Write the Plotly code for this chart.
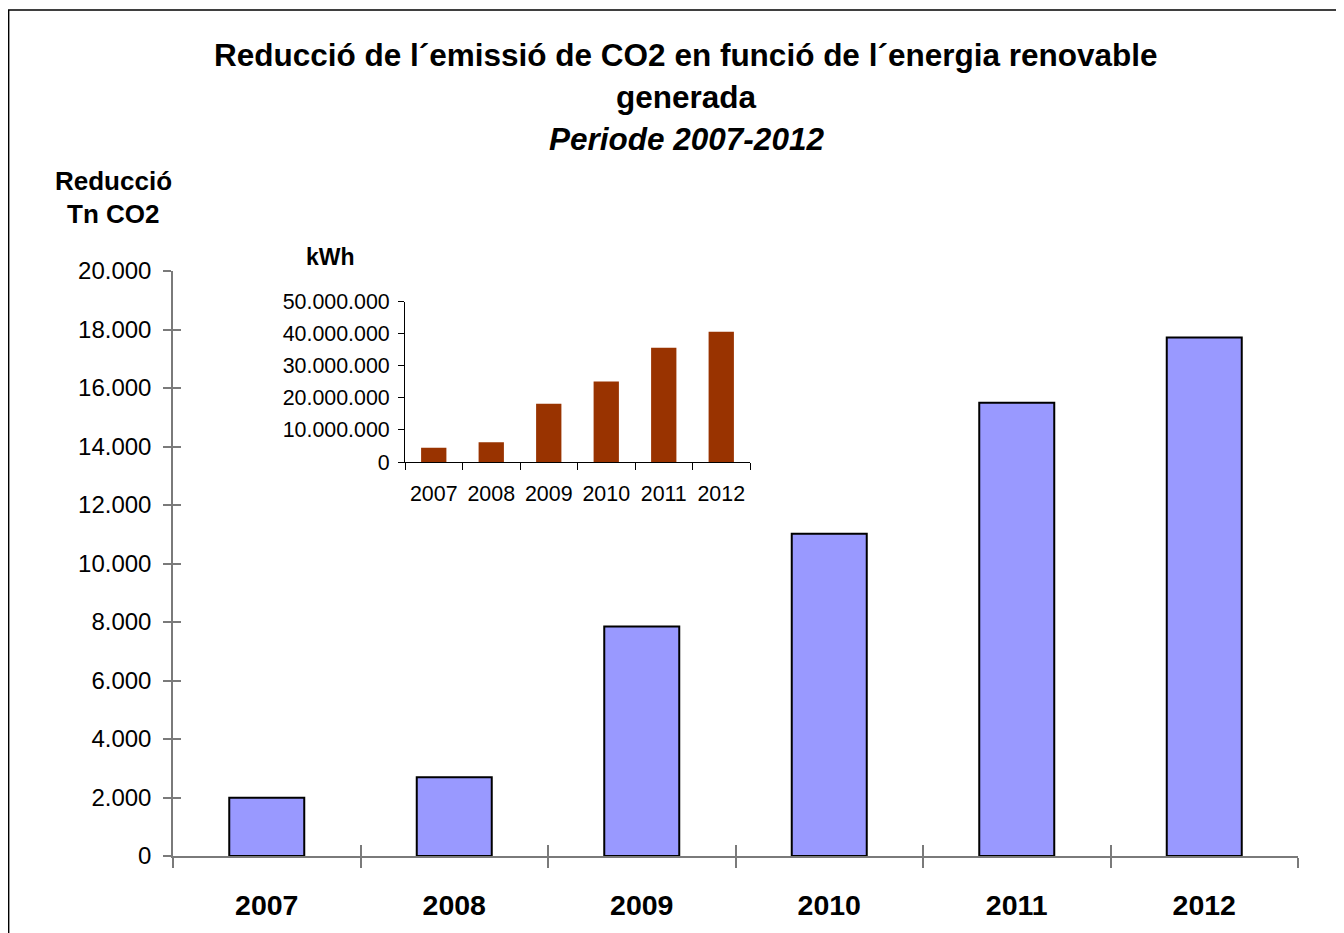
import plotly.graph_objects as go

# ---- data ----
years = ["2007", "2008", "2009", "2010", "2011", "2012"]
co2_reduction_tn = [1990, 2690, 7850, 11020, 15500, 17730]
energy_kwh = [4480000, 6150000, 18200000, 25100000, 35700000, 40700000]
main_tickvals = [0, 2000, 4000, 6000, 8000, 10000, 12000, 14000, 16000, 18000, 20000]
inset_tickvals = [0, 10000000, 20000000, 30000000, 40000000, 50000000]

title_line1 = "Reducció de l´emissió de CO2 en funció de l´energia renovable"
title_line2 = "generada"
title_line3 = "<i>Periode 2007-2012</i>"
ytitle_lines = ["Reducció", "Tn CO2"]
inset_title = "kWh"

# ---- layout geometry ----
# the page body has an 8px margin, so the figure starts at screen (8, 8)
OFF = 8
W, H = 1336, 925
PLOT_L, PLOT_R, PLOT_T, PLOT_B = 173, 1298, 271, 859   # screen pixels
L = PLOT_L - OFF
T = PLOT_T - OFF
R = W - (PLOT_R - OFF)
B = H - (PLOT_B - OFF)
PW, PH = W - L - R, H - T - B


def px(x):
    """screen x -> paper fraction"""
    return (x - OFF - L) / PW


def py(y):
    """screen y -> paper fraction"""
    return (H - B - (y - OFF)) / PH


FONT = "Liberation Sans, Arial, Helvetica, sans-serif"
AXIS_GREY = "#7a7a7a"

fig = go.Figure()

fig.add_trace(go.Bar(
    x=years, y=co2_reduction_tn, xaxis="x", yaxis="y",
    width=0.4,
    marker=dict(color="#9999FF", line=dict(color="black", width=2)),
    hoverinfo="x+y",
))
# invisible twin trace used only for the crossing (inside) tick marks
fig.add_trace(go.Bar(
    x=years, y=co2_reduction_tn, xaxis="x3", yaxis="y3",
    width=0.4, opacity=0, hoverinfo="skip",
))
fig.add_trace(go.Bar(
    x=years, y=energy_kwh, xaxis="x2", yaxis="y2",
    width=0.44,
    marker=dict(color="#993300", line=dict(width=0)),
    hoverinfo="x+y",
))

fig.update_layout(
    width=W, height=H, autosize=False,
    margin=dict(l=L, r=R, t=T, b=B, pad=0),
    paper_bgcolor="white", plot_bgcolor="white",
    showlegend=False,
    separators=",.",
    font=dict(family=FONT, color="black"),
    xaxis=dict(
        type="category", categoryorder="array", categoryarray=years,
        range=[-0.5, 5.5], tickson="boundaries",
        ticks="outside", ticklen=10, tickwidth=1.5, tickcolor=AXIS_GREY,
        showline=True, linecolor=AXIS_GREY, linewidth=1.5,
        showgrid=False, zeroline=False,
        tickfont=dict(family=FONT, size=28.5, weight="bold", color="black"),
        ticklabelstandoff=23,
        fixedrange=True,
    ),
    yaxis=dict(
        range=[0, 20000], tickvals=main_tickvals, tickformat=",d",
        ticks="outside", ticklen=8, tickwidth=1.5, tickcolor=AXIS_GREY,
        showline=True, linecolor=AXIS_GREY, linewidth=1.5,
        showgrid=False, zeroline=False,
        tickfont=dict(family=FONT, size=24, color="black"),
        ticklabelstandoff=7,
        fixedrange=True,
    ),
    xaxis3=dict(
        overlaying="x", anchor="y3",
        type="category", categoryorder="array", categoryarray=years,
        range=[-0.5, 5.5], tickson="boundaries",
        ticks="inside", ticklen=11, tickwidth=1.5, tickcolor=AXIS_GREY,
        showline=False, showgrid=False, zeroline=False, showticklabels=False,
        fixedrange=True,
    ),
    yaxis3=dict(
        overlaying="y", anchor="x3",
        range=[0, 20000], tickvals=main_tickvals,
        ticks="inside", ticklen=8, tickwidth=1.5, tickcolor=AXIS_GREY,
        showline=False, showgrid=False, zeroline=False, showticklabels=False,
        fixedrange=True,
    ),
    xaxis2=dict(
        domain=[px(405), px(750)], anchor="y2",
        type="category", categoryorder="array", categoryarray=years,
        range=[-0.5, 5.5], tickson="boundaries",
        ticks="outside", ticklen=7, tickwidth=1, tickcolor="black",
        showline=True, linecolor="black", linewidth=1,
        showgrid=False, zeroline=False,
        tickfont=dict(family=FONT, size=21.4, color="black"),
        ticklabelstandoff=12,
        fixedrange=True,
    ),
    yaxis2=dict(
        domain=[py(463), py(302)], anchor="x2",
        range=[0, 50000000], tickvals=inset_tickvals, tickformat=",d",
        ticks="outside", ticklen=6, tickwidth=1, tickcolor="black",
        showline=True, linecolor="black", linewidth=1,
        showgrid=False, zeroline=False,
        tickfont=dict(family=FONT, size=21.4, color="black"),
        ticklabelstandoff=4,
        fixedrange=True,
    ),
)

annotations = []
title_font = dict(family=FONT, size=31.5, color="black", weight="bold")
for text, yc in [(title_line1, 54), (title_line2, 96), (title_line3, 138)]:
    annotations.append(dict(
        text=text, x=px(686), y=py(yc), xref="paper", yref="paper",
        xanchor="center", yanchor="middle", showarrow=False, font=title_font,
    ))
for text, yc in zip(ytitle_lines, [181, 214]):
    annotations.append(dict(
        text=text, x=px(113), y=py(yc), xref="paper", yref="paper",
        xanchor="center", yanchor="middle", showarrow=False,
        font=dict(family=FONT, size=26, color="black", weight="bold"),
    ))
annotations.append(dict(
    text=inset_title, x=px(330), y=py(257), xref="paper", yref="paper",
    xanchor="center", yanchor="middle", showarrow=False,
    font=dict(family=FONT, size=23, color="black", weight="bold"),
))
fig.update_layout(annotations=annotations)

# outer chart frame (right and bottom edges fall outside the visible window)
fig.add_shape(
    type="rect", xref="paper", yref="paper",
    x0=px(8.7), x1=px(1400), y0=py(1000), y1=py(8.7),
    line=dict(color="black", width=1.4), fillcolor="rgba(0,0,0,0)", layer="below",
)

fig.write_html("out.html")
